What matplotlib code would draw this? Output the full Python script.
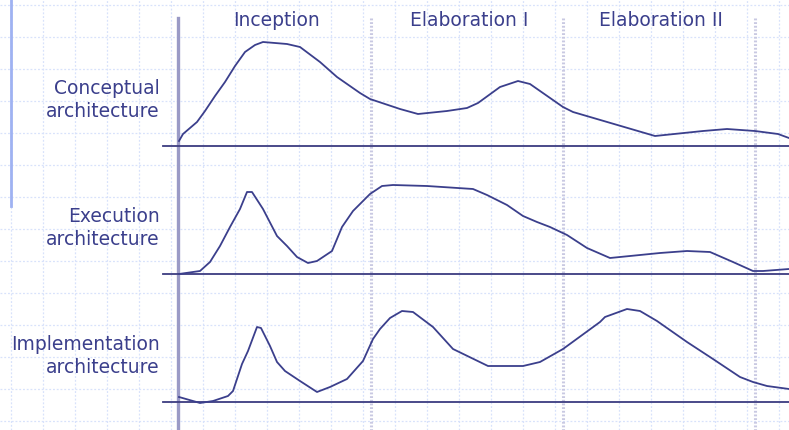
import matplotlib.pyplot as plt
import numpy as np

# phases along the time axis
phases = ["Inception", "Elaboration I", "Elaboration II"]
phase_bounds = [178, 371, 563, 755]

rows = ["Conceptual\narchitecture", "Execution\narchitecture", "Implementation\narchitecture"]
baselines = [147, 275, 403]

# effort curves: time position and height above each baseline
conc_t = [179, 183, 197, 205, 215, 225, 235, 245, 255, 263, 287, 300, 320, 337, 360, 370, 400, 418,
          447, 467, 478, 500, 518, 530, 563, 573, 655, 703, 727, 755, 778, 789]
conc_h = [5, 12, 24, 35, 50, 64, 80, 94, 101, 104, 102, 99, 84, 69, 53, 47, 37, 32,
          35, 38, 43, 59, 65, 62, 39, 34, 10, 15, 17, 15, 12, 8]

exec_t = [179, 200, 210, 220, 230, 240, 247, 252, 263, 277, 287, 297, 308, 317, 332, 342, 353,
          370, 382, 393, 427, 473, 487, 507, 523, 537, 550, 567, 587, 610, 660, 687, 710,
          733, 753, 763, 789]
exec_h = [0, 3, 12, 28, 47, 65, 82, 82, 65, 38, 28, 17, 11, 13, 23, 47, 63,
          80, 88, 89, 88, 85, 79, 69, 58, 52, 47, 39, 26, 16, 21, 23, 22,
          12, 3, 3, 5]

impl_t = [179, 200, 213, 228, 233, 242, 248, 257, 261, 270, 277, 285, 300, 317, 330, 347, 363,
          373, 380, 390, 402, 413, 433, 453, 488, 523, 540, 563, 600, 605, 627, 640, 657,
          687, 713, 740, 753, 767, 789]
impl_h = [5, -1, 1, 6, 11, 38, 51, 75, 74, 56, 40, 31, 21, 10, 15, 23, 41,
          63, 73, 84, 91, 90, 75, 53, 36, 36, 40, 53, 80, 85, 93, 91, 81,
          60, 43, 25, 20, 16, 13]

curves = [(conc_t, conc_h), (exec_t, exec_h), (impl_t, impl_h)]

ink = "#3b3f8c"
fig = plt.figure(figsize=(7.89, 4.31), dpi=100)
ax = fig.add_axes([0, 0, 1, 1])
ax.set_xlim(0, 789)
ax.set_ylim(431, 0)
ax.axis("off")

# background grid
for gx in np.arange(11, 789, 32):
    ax.axvline(gx, color="#d8e2fb", lw=0.9, ls=(0, (1.5, 1.5)), zorder=0)
for gy in np.arange(6, 431, 32):
    ax.axhline(gy, color="#d8e2fb", lw=0.9, ls=(0, (1.5, 1.5)), zorder=0)
ax.plot([11, 11], [0, 207], color="#9fb2f2", lw=2, zorder=1)

# phase separators and titles
for b in phase_bounds[1:]:
    ax.plot([b, b], [19, 431], color="#c9c9e2", lw=2.2, ls=(0, (0.6, 0.6)), zorder=1)
for i, name in enumerate(phases):
    cx = (phase_bounds[i] + phase_bounds[i + 1]) / 2
    ax.text(cx + 2, 20, name, ha="center", va="center", fontsize=13.5, color=ink,
            family="DejaVu Sans")
ax.plot([178.5, 178.5], [19, 431], color="#9a9ac6", lw=2.4, zorder=2)

for label, base, (t, h) in zip(rows, baselines, curves):
    ax.plot([163, 789], [base, base], color="#3c3c80", lw=1.3, zorder=3)
    ax.plot(t, base - np.array(h), color=ink, lw=1.3, zorder=4,
            solid_joinstyle="round")
    ax.text(160, base - 47, label, ha="right", va="center", fontsize=13.5, color=ink,
            linespacing=1.3, family="DejaVu Sans")

fig.savefig("out.png", dpi=100)
